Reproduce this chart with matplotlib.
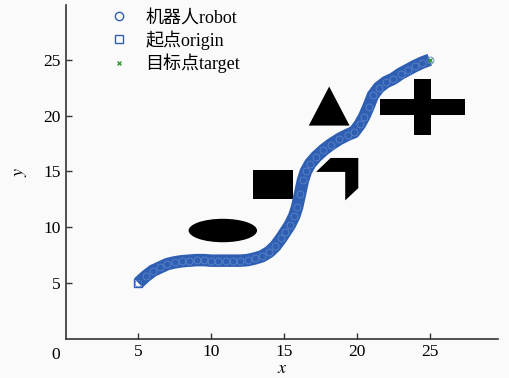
import matplotlib
matplotlib.use("Agg")
import matplotlib.pyplot as plt
import matplotlib.patches as patches
from matplotlib.lines import Line2D

plt.rcParams['font.family'] = ['Liberation Serif', 'Noto Sans CJK SC']
plt.rcParams['mathtext.fontset'] = 'stix'

# 机器人轨迹
path_x = [5, 5.5, 6, 6.5, 7, 7.5, 8, 8.5, 9, 9.5, 10, 10.5, 11, 11.5, 12, 12.5,
          13, 13.5, 14, 14.4, 14.8, 15.1, 15.4, 15.7, 15.9, 16.1, 16.3, 16.5,
          16.8, 17.2, 17.7, 18.2, 18.8, 19.4, 19.8, 20.2, 20.5, 20.8, 21.1,
          21.5, 22.0, 22.5, 23.0, 23.5, 24.0, 24.5, 25]
path_y = [5, 5.6, 6.1, 6.4, 6.7, 6.85, 6.95, 7.0, 7.05, 7.05, 7.0, 7.0, 7.0, 7.0,
          7.0, 7.05, 7.2, 7.4, 7.8, 8.3, 9.0, 9.6, 10.2, 11.0, 11.8, 13.0, 14.2,
          15.0, 15.7, 16.3, 16.9, 17.4, 17.9, 18.3, 18.5, 19.2, 19.9, 20.8, 21.8,
          22.5, 23.0, 23.3, 23.75, 24.1, 24.45, 24.75, 25]

origin = (5, 5)
target = (25, 25)

# 障碍物
ellipse_obs = dict(center=(10.8, 9.7), width=4.7, height=2.1)
rect_obs = dict(xy=(12.9, 12.5), width=2.7, height=2.65)
bent_obs = [(17.2, 14.95), (18.2, 16.2), (20.1, 16.2), (20.1, 13.5), (19.2, 12.4), (19.2, 14.95)]
tri_obs = [(18.1, 22.6), (16.7, 19.1), (19.5, 19.1)]
cross_h = dict(xy=(21.6, 20.05), width=5.85, height=1.45)
cross_v = dict(xy=(23.95, 18.27), width=1.15, height=5.03)

xticks = [5, 10, 15, 20, 25]
yticks = [5, 10, 15, 20, 25]

blue = '#2f5fb3'

fig = plt.figure(figsize=(5.09, 3.78), dpi=100, facecolor='#fafafa')
ax = fig.add_axes([0.1287, 0.1037, 0.85, 0.883])
ax.set_facecolor('#fafafa')

# 障碍物
ax.add_patch(patches.Ellipse(ellipse_obs['center'], ellipse_obs['width'], ellipse_obs['height'],
                             facecolor='black', edgecolor='none', zorder=2))
ax.add_patch(patches.Rectangle(rect_obs['xy'], rect_obs['width'], rect_obs['height'],
                               facecolor='black', edgecolor='none', zorder=2))
ax.add_patch(patches.Polygon(bent_obs, closed=True, facecolor='black', edgecolor='none', zorder=2))
ax.add_patch(patches.Polygon(tri_obs, closed=True, facecolor='black', edgecolor='none', zorder=2))
for bar in (cross_h, cross_v):
    ax.add_patch(patches.Rectangle(bar['xy'], bar['width'], bar['height'],
                                   facecolor='black', edgecolor='none', zorder=2))

# 轨迹
ax.plot(path_x, path_y, '-', color=blue, lw=9, solid_capstyle='butt', zorder=3)
ax.plot(path_x, path_y, 'o', ms=5, mfc='none', mec='#5d84c8', mew=0.6, zorder=4)
ax.plot(*origin, 's', ms=6, mfc='none', mec=blue, mew=1, zorder=5)
ax.plot(*target, 'x', ms=3, color='#3a9a3a', mew=1, zorder=5)

ax.set_xlim(0, 29.7)
ax.set_ylim(0, 29.9)
ax.set_xticks(xticks)
ax.set_yticks(yticks)
ax.tick_params(direction='in', length=4, width=1, labelsize=12.5, color='#333333')
for s in ('top', 'right'):
    ax.spines[s].set_visible(False)
for s in ('left', 'bottom'):
    ax.spines[s].set_color('#333333')
    ax.spines[s].set_linewidth(1.2)
ax.text(-0.4, -0.7, '0', ha='right', va='top', fontsize=12.5)
ax.set_xlabel('$x$', fontsize=13, labelpad=0)
ax.set_ylabel('$y$', fontsize=13, labelpad=10)

handles = [
    Line2D([], [], ls='none', marker='o', ms=6, mfc='none', mec=blue, mew=1),
    Line2D([], [], ls='none', marker='s', ms=6, mfc='none', mec=blue, mew=1),
    Line2D([], [], ls='none', marker='x', ms=3, color='#3a9a3a', mew=1),
]
ax.legend(handles, ['机器人robot', '起点origin', '目标点target'], loc='upper left',
          bbox_to_anchor=(0.055, 1.035), frameon=False, fontsize=13,
          handletextpad=0.7, labelspacing=0.2, handlelength=1.5)

fig.savefig('out.png', dpi=100, facecolor=fig.get_facecolor())
